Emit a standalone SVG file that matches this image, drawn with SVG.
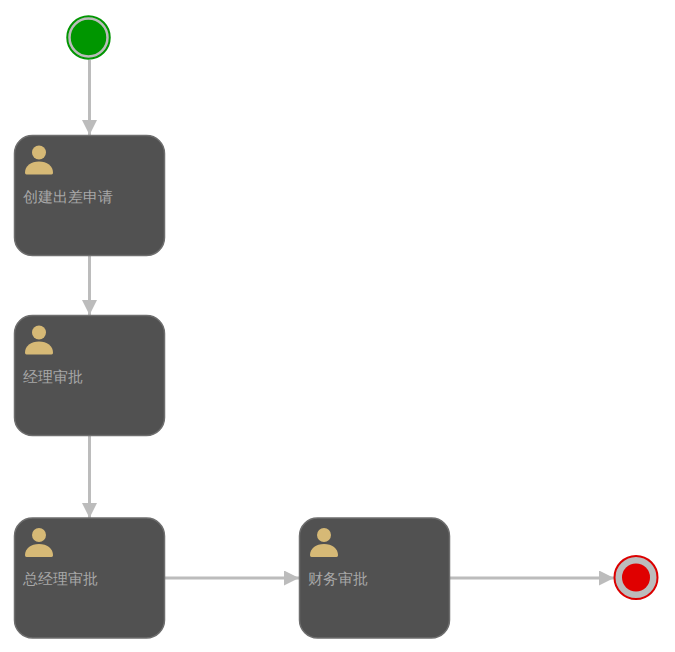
<svg xmlns="http://www.w3.org/2000/svg" width="675" height="652" viewBox="0 0 675 652">
<style>
.box{fill:#515151;stroke:#6e6e6e;stroke-width:1.5}
.lbl{font-family:"Liberation Serif",serif;font-size:15px;fill:#a8a8a8}
.conn{fill:none;stroke:#bcbcbc;stroke-width:3;marker-end:url(#arr)}
.ic{fill:#d6b976}
</style>
<defs>
<marker id="arr" markerUnits="userSpaceOnUse" markerWidth="15" markerHeight="15" refX="15" refY="7.500" orient="auto"><path d="M0 0L15 7.500L0 15Z" fill="#bcbcbc"/></marker>
<g id="user"><circle class="ic" cx="25" cy="17.500" r="7"/><path class="ic" d="M11 37.500C11 31 17 26.500 25 26.500C33 26.500 39 31 39 37.500C39 38.700 38.500 39.500 37.500 39.500H12.500C11.500 39.500 11 38.700 11 37.500Z"/></g>
</defs>
<rect width="675" height="652" fill="#fff"/>
<g id="connectors">
<path class="conn" d="M89.500 60V135"/>
<path class="conn" d="M89.500 256V315"/>
<path class="conn" d="M89.500 436V518"/>
<path class="conn" d="M165 578H299"/>
<path class="conn" d="M450 578H614"/>
</g>
<g id="start"><circle cx="88.500" cy="37.500" r="21.500" fill="#009600" stroke="#009600" stroke-width="1.500"/><circle cx="88.500" cy="37.500" r="19" fill="#009600" stroke="#bcbcbc" stroke-width="2.500"/></g>
<g id="task1"><rect class="box" x="14.500" y="135.500" width="150" height="120" rx="18"/><use href="#user" x="14" y="135"/><text class="lbl" x="22.500" y="202">创建出差申请</text></g>
<g id="task2"><rect class="box" x="14.500" y="315.500" width="150" height="120" rx="18"/><use href="#user" x="14" y="315"/><text class="lbl" x="22.500" y="382">经理审批</text></g>
<g id="task3"><rect class="box" x="14.500" y="518" width="150" height="120" rx="18"/><use href="#user" x="14" y="517.500"/><text class="lbl" x="22.500" y="584">总经理审批</text></g>
<g id="task4"><rect class="box" x="299.500" y="518" width="150" height="120" rx="18"/><use href="#user" x="299" y="517.500"/><text class="lbl" x="307.500" y="584">财务审批</text></g>
<g id="end"><circle cx="636" cy="577.500" r="21.500" fill="#bcbcbc" stroke="#dc0000" stroke-width="2"/><circle cx="636" cy="577.500" r="14" fill="#e00000"/></g>
</svg>
